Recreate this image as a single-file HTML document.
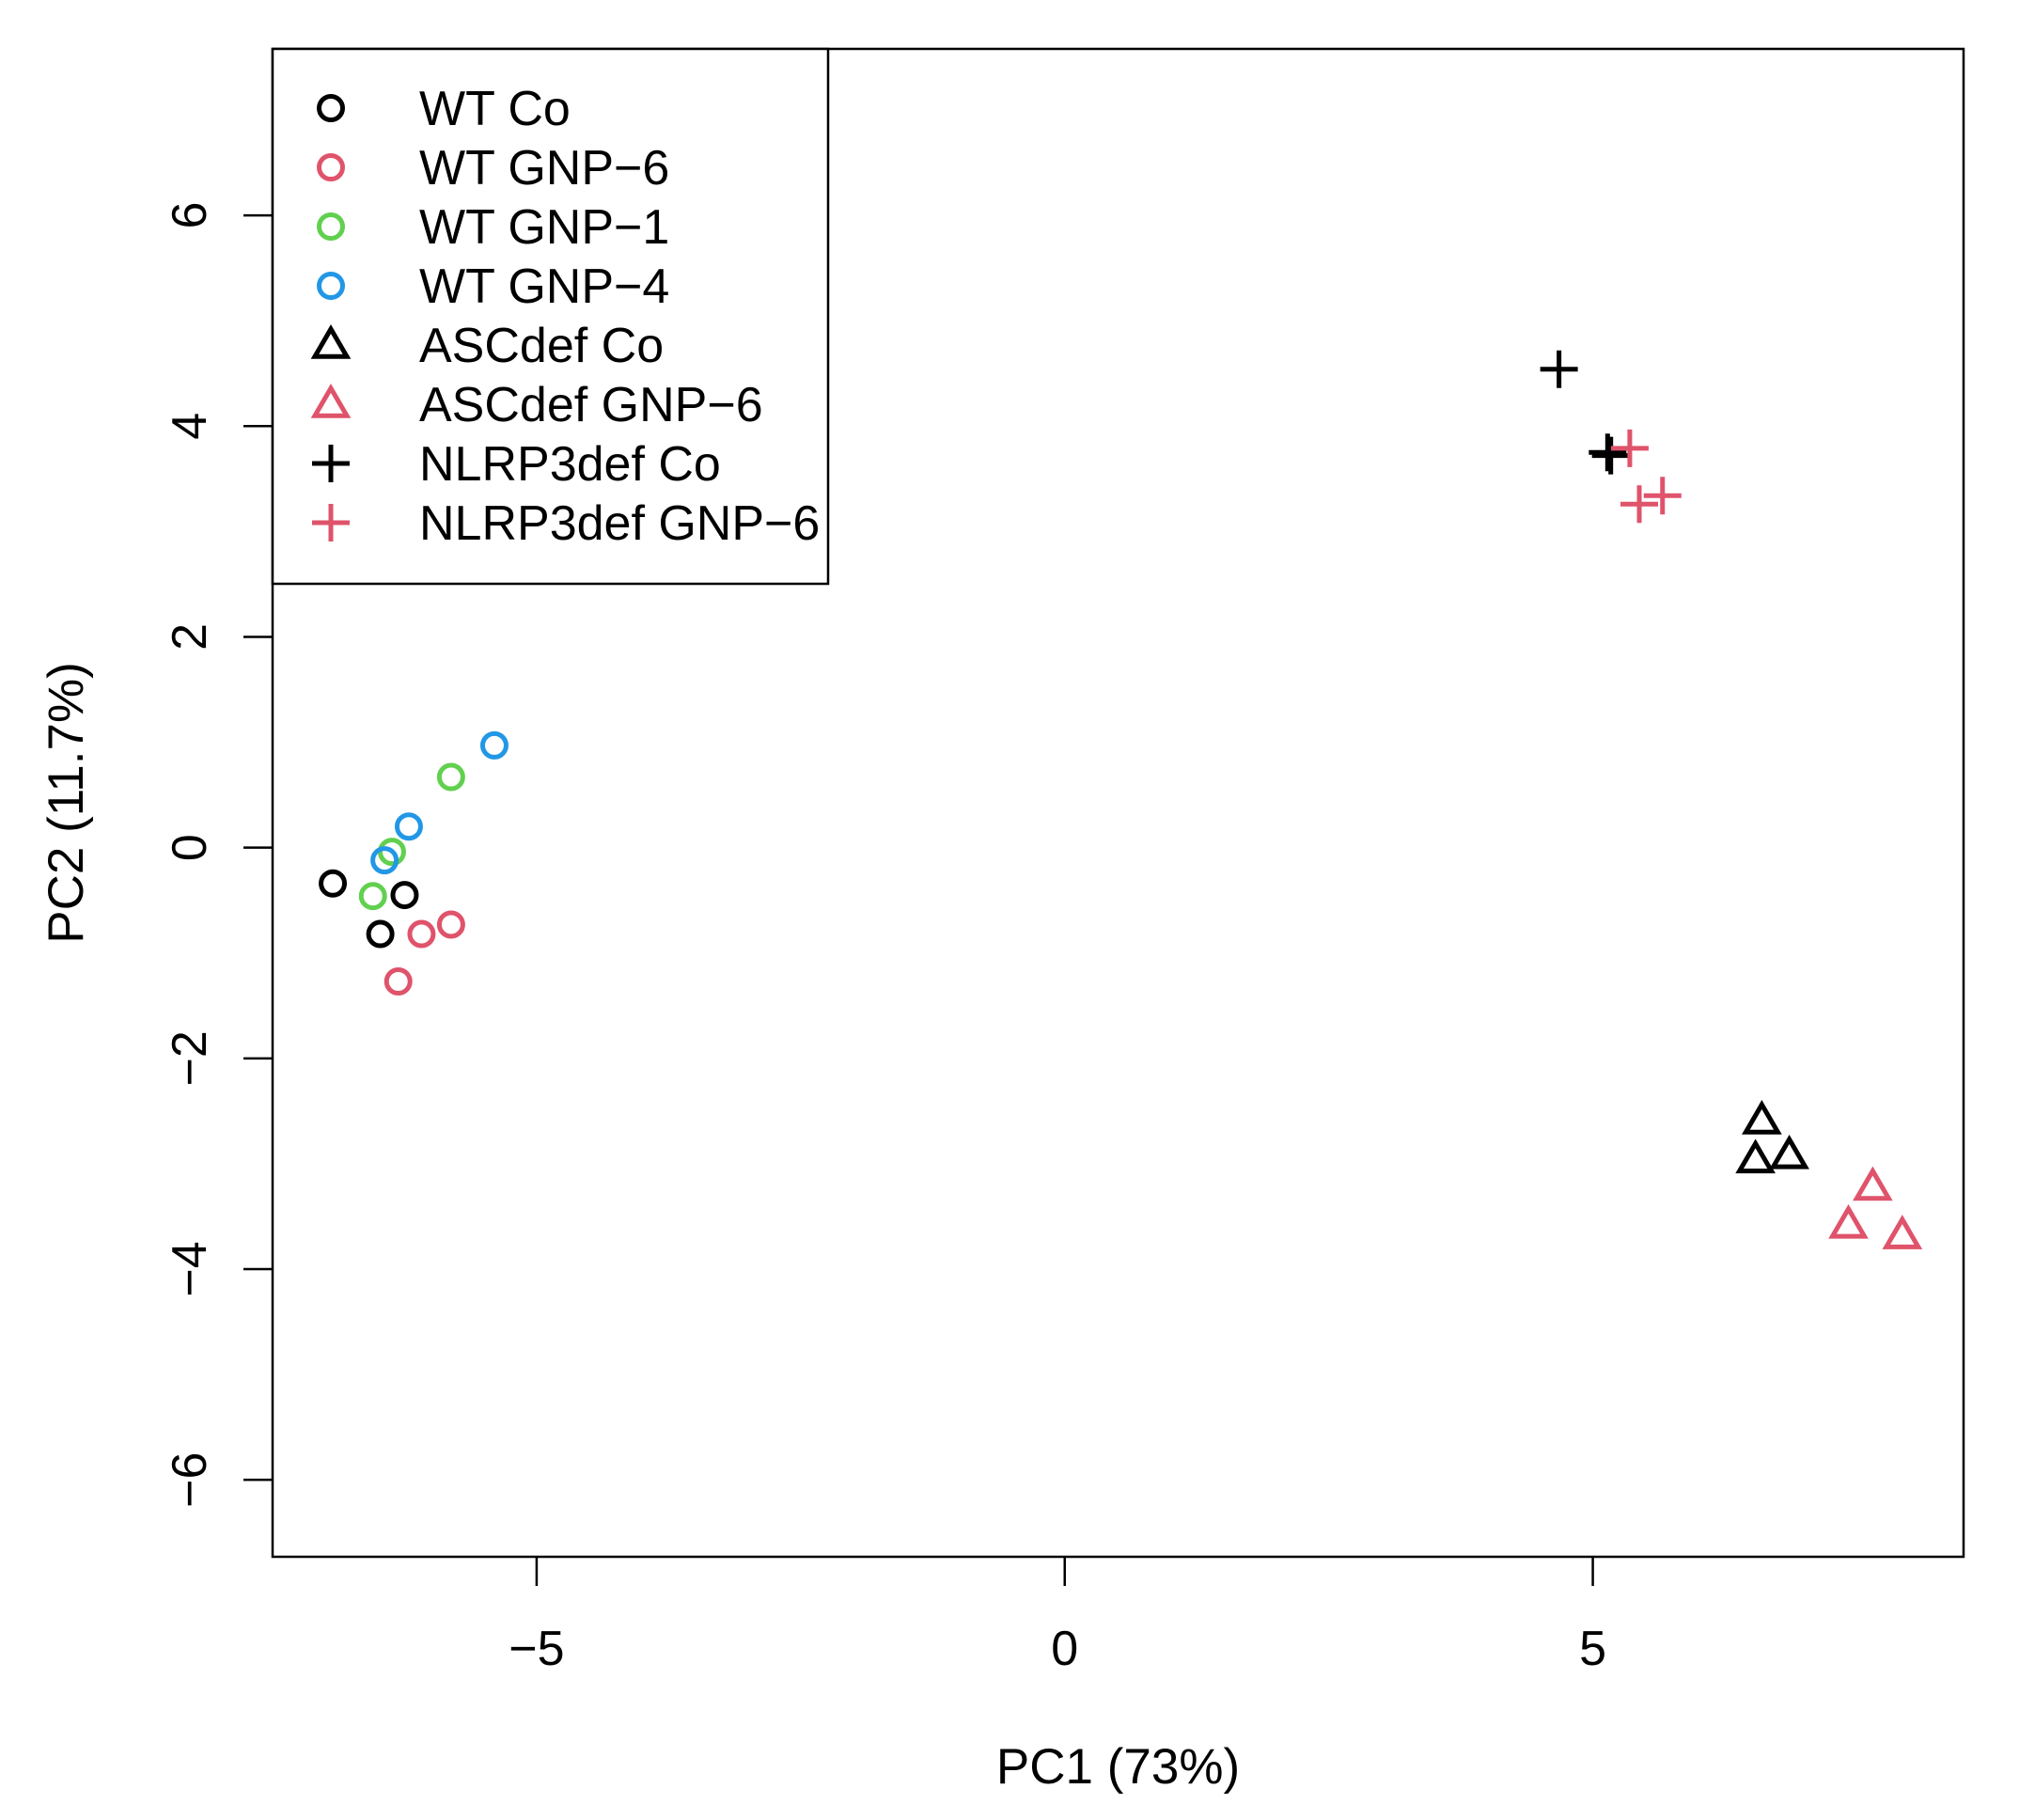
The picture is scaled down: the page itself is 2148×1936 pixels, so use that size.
<!DOCTYPE html>
<html><head><meta charset="utf-8"><style>
html,body{margin:0;padding:0;background:#fff;}
svg{display:block;font-family:"Liberation Sans",sans-serif;}
</style></head><body>
<svg id="chart" width="2148" height="1936" viewBox="0 0 2148 1936"></svg>
<script>
const groups = ["WT Co","WT GNP\u22126","WT GNP\u22121","WT GNP\u22124","ASCdef Co","ASCdef GNP\u22126","NLRP3def Co","NLRP3def GNP\u22126"];
const groupColors = ["#000000","#DF536B","#61D04F","#2297E6","#000000","#DF536B","#000000","#DF536B"];
const groupShapes = ["circle","circle","circle","circle","triangle","triangle","plus","plus"];
const pc1WTCo = [-6.93,-6.25,-6.48];
const pc2WTCo = [-0.34,-0.45,-0.82];
const pc1WTGNP6 = [-6.09,-5.81,-6.31];
const pc2WTGNP6 = [-0.82,-0.73,-1.27];
const pc1WTGNP1 = [-5.81,-6.37,-6.55];
const pc2WTGNP1 = [0.67,-0.04,-0.46];
const pc1WTGNP4 = [-5.40,-6.21,-6.44];
const pc2WTGNP4 = [0.97,0.20,-0.12];
const pc1ASCCo = [6.60,6.54,6.86];
const pc2ASCCo = [-2.59,-2.96,-2.92];
const pc1ASCGNP6 = [7.65,7.42,7.93];
const pc2ASCGNP6 = [-3.22,-3.58,-3.68];
const pc1NLRPCo = [4.68,5.17,5.14];
const pc2NLRPCo = [4.54,3.72,3.75];
const pc1NLRPGNP6 = [5.35,5.66,5.44];
const pc2NLRPGNP6 = [3.79,3.34,3.26];
const xTicks = [-5,0,5];
const yTicks = [-6,-4,-2,0,2,4,6];
const xTickLabels = ["\u22125","0","5"];
const yTickLabels = ["\u22126","\u22124","\u22122","0","2","4","6"];

const seriesX = [pc1WTCo,pc1WTGNP6,pc1WTGNP1,pc1WTGNP4,pc1ASCCo,pc1ASCGNP6,pc1NLRPCo,pc1NLRPGNP6];
const seriesY = [pc2WTCo,pc2WTGNP6,pc2WTGNP1,pc2WTGNP4,pc2ASCCo,pc2ASCGNP6,pc2NLRPCo,pc2NLRPGNP6];

const L=290,T=52,R=2089,B=1656;
const xMin=-7.50,xMax=8.51,yMin=-6.73,yMax=7.58;
function sx(v){return L+(v-xMin)/(xMax-xMin)*(R-L);}
function sy(v){return B-(v-yMin)/(yMax-yMin)*(B-T);}
const NS="http://www.w3.org/2000/svg";
const svg=document.getElementById('chart');
function mk(tag,attrs,parent){const e=document.createElementNS(NS,tag);for(const k in attrs)e.setAttribute(k,attrs[k]);(parent||svg).appendChild(e);return e;}

function marker(shape,color,cx,cy,parent){
  let e;
  if(shape==="circle"){e=mk('circle',{cx:cx,cy:cy,r:12.5,fill:'none',stroke:color,'stroke-width':5},parent);}
  else if(shape==="triangle"){const h=17;e=mk('polygon',{points:`${cx},${cy-h} ${cx+h},${cy+h*0.72} ${cx-h},${cy+h*0.72}`,fill:'none',stroke:color,'stroke-width':5,'stroke-linejoin':'miter'},parent);}
  else {e=mk('path',{d:`M${cx-20},${cy}H${cx+20}M${cx},${cy-20}V${cy+20}`,fill:'none',stroke:color,'stroke-width':5},parent);}
  return e;
}

const frame=mk('rect',{x:L,y:T,width:R-L,height:B-T,fill:'none',stroke:'#000','stroke-width':2.5});



xTicks.forEach((t,i)=>{
  const x=sx(t);
  const tk=mk('line',{x1:x,x2:x,y1:B,y2:B+31,stroke:'#000','stroke-width':2.5});
  
  
  const tx=mk('text',{x:x,y:1771,'text-anchor':'middle','font-size':52,fill:'#000'});
  tx.textContent=xTickLabels[i];
  
  
});
yTicks.forEach((t,i)=>{
  const y=sy(t);
  const tk=mk('line',{x1:L-31,x2:L,y1:y,y2:y,stroke:'#000','stroke-width':2.5});
  
  
  const tx=mk('text',{x:0,y:0,'text-anchor':'middle','font-size':52,fill:'#000',transform:`translate(219,${y}) rotate(-90)`});
  tx.textContent=yTickLabels[i];
  
  
});
const xt=mk('text',{x:(L+R)/2,y:1897,'text-anchor':'middle','font-size':53,fill:'#000'});
xt.textContent="PC1 (73%)";


const yt=mk('text',{x:0,y:0,'text-anchor':'middle','font-size':53,fill:'#000',transform:`translate(88,${(T+B)/2}) rotate(-90)`});
yt.textContent="PC2 (11.7%)";



groups.forEach((g,gi)=>{
  const grp=mk('g',{});
  
  
  seriesX[gi].forEach((v,j)=>{
    const m=marker(groupShapes[gi],groupColors[gi],sx(v),sy(seriesY[gi][j]),grp);
    
    
  });
});

const lg=mk('g',{});


const lb=mk('rect',{x:L,y:T,width:591,height:569,fill:'#fff',stroke:'#000','stroke-width':2.5},lg);


groups.forEach((g,gi)=>{
  const y=115+gi*63;
  const ent=mk('g',{},lg);
  
  
  marker(groupShapes[gi],groupColors[gi],352,y,ent);
  const t=mk('text',{x:446,y:y+18,'font-size':52,fill:'#000'},ent);
  t.textContent=g;
});
</script>
</body></html>
